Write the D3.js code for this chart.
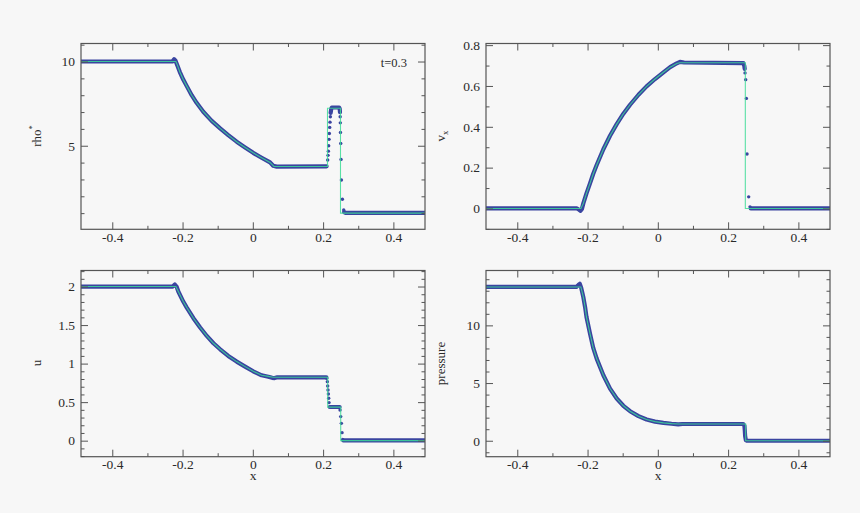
<!DOCTYPE html>
<html>
<head>
<meta charset="utf-8">
<script src="https://cdn.jsdelivr.net/npm/d3@7"></script>
<style>
  html, body { margin: 0; padding: 0; background: #f7f7f7; }
  svg { display: block; }
  text { font-family: "Liberation Serif", "Times New Roman", serif; fill: #2a2a2a; }
</style>
</head>
<body>
<svg id="chart" width="860" height="513"></svg>
<script>
// ---------------- shared x axis ----------------
const xDomain = [-0.489, 0.490];
const xMajorTicks = [-0.4, -0.2, 0, 0.2, 0.4];
const xTickLabels = ["-0.4", "-0.2", "0", "0.2", "0.4"];
const xMinorTicks = [-0.3, -0.1, 0.1, 0.3];
const timeLabel = "t=0.3";

// ---------------- rho* panel ----------------
const rhoDomain = [0.04, 11.07];
const rhoMajorTicks = [5, 10];
const rhoTickLabels = ["5", "10"];
const rhoMinorTicks = [1, 2, 3, 4, 6, 7, 8, 9, 11];
const rhoExactX = [-0.489, -0.219, -0.215, -0.208, -0.198, -0.188, -0.174, -0.160, -0.141, -0.117, -0.093, -0.070, -0.046, -0.022, 0.001, 0.025, 0.049, 0.060, 0.2125, 0.2125, 0.2495, 0.2495, 0.490];
const rhoExactY = [10, 10, 9.80, 9.39, 8.93, 8.54, 8.00, 7.55, 7.02, 6.48, 6.03, 5.63, 5.24, 4.90, 4.58, 4.29, 4.01, 3.77, 3.77, 7.23, 7.23, 1.0, 1.0];
const rhoBandX = [-0.489, -0.229, -0.224, -0.220, -0.215, -0.208, -0.198, -0.188, -0.174, -0.160, -0.141, -0.117, -0.093, -0.070, -0.046, -0.022, 0.001, 0.025, 0.049, 0.058, 0.068, 0.2100, null, 0.2215, 0.2232, 0.2250, 0.2455, 0.2472, 0.2480, null, 0.2600, 0.2630, 0.490];
const rhoBandY = [10, 10, 10.14, 10.05, 9.78, 9.39, 8.93, 8.54, 8.00, 7.55, 7.02, 6.48, 6.03, 5.63, 5.24, 4.90, 4.58, 4.29, 4.01, 3.81, 3.76, 3.78, null, 6.95, 7.20, 7.27, 7.27, 7.20, 7.00, null, 1.06, 1.02, 1.02];
const rhoDotX = [0.2131, 0.2140, 0.2150, 0.2159, 0.2169, 0.2178, 0.2188, 0.2197, 0.2207, 0.2483, 0.2486, 0.2490, 0.2494, 0.2502, 0.2511, 0.2521, 0.2549, 0.2587];
const rhoDotY = [4.15, 4.43, 4.68, 5.00, 5.38, 5.73, 6.09, 6.40, 6.72, 7.02, 6.72, 6.36, 5.79, 5.14, 4.19, 2.97, 1.82, 1.19];

// ---------------- v_x panel ----------------
const vDomain = [-0.102, 0.808];
const vMajorTicks = [0, 0.2, 0.4, 0.6, 0.8];
const vTickLabels = ["0", "0.2", "0.4", "0.6", "0.8"];
const vMinorTicks = [-0.1, 0.1, 0.3, 0.5, 0.7];
const vExactX = [-0.489, -0.219, -0.212, -0.203, -0.193, -0.184, -0.174, -0.155, -0.136, -0.117, -0.098, -0.079, -0.055, -0.032, -0.008, 0.016, 0.035, 0.054, 0.062, 0.2490, 0.2490, 0.490];
const vExactY = [0, 0, 0.025, 0.074, 0.123, 0.169, 0.213, 0.290, 0.356, 0.413, 0.464, 0.508, 0.557, 0.598, 0.634, 0.667, 0.692, 0.710, 0.714, 0.714, 0, 0];
const vBandX = [-0.489, -0.230, -0.224, -0.220, -0.216, -0.212, -0.203, -0.193, -0.184, -0.174, -0.155, -0.136, -0.117, -0.098, -0.079, -0.055, -0.032, -0.008, 0.016, 0.035, 0.054, 0.063, 0.075, 0.2434, 0.2463, 0.2472, null, 0.2645, 0.490];
const vBandY = [0, 0, -0.006, -0.011, -0.002, 0.025, 0.074, 0.123, 0.169, 0.213, 0.290, 0.356, 0.413, 0.464, 0.508, 0.557, 0.598, 0.634, 0.667, 0.692, 0.711, 0.718, 0.715, 0.712, 0.697, 0.684, null, 0, 0];
const vDotX = [0.2482, 0.2501, 0.2520, 0.2539, 0.2586, 0.2624];
const vDotY = [0.664, 0.631, 0.539, 0.267, 0.057, 0.008];

// ---------------- u panel ----------------
const uDomain = [-0.208, 2.208];
const uMajorTicks = [0, 0.5, 1, 1.5, 2];
const uTickLabels = ["0", "0.5", "1", "1.5", "2"];
const uMinorTicks = [-0.2, -0.1, 0.1, 0.2, 0.3, 0.4, 0.6, 0.7, 0.8, 0.9, 1.1, 1.2, 1.3, 1.4, 1.6, 1.7, 1.8, 1.9, 2.1, 2.2];
const uExactX = [-0.489, -0.219, -0.212, -0.198, -0.188, -0.169, -0.150, -0.131, -0.112, -0.093, -0.070, -0.046, -0.022, 0.001, 0.025, 0.044, 0.058, 0.2131, 0.2131, 0.2501, 0.2501, 0.490];
const uExactY = [2, 2, 1.935, 1.805, 1.727, 1.589, 1.468, 1.359, 1.264, 1.186, 1.100, 1.026, 0.961, 0.900, 0.848, 0.834, 0.823, 0.823, 0.435, 0.435, 0, 0];
const uBandX = [-0.489, -0.228, -0.222, -0.217, -0.212, -0.198, -0.188, -0.169, -0.150, -0.131, -0.112, -0.093, -0.070, -0.046, -0.022, 0.001, 0.025, 0.044, 0.055, 0.062, 0.070, 0.2093, null, 0.2188, 0.2470, null, 0.2575, 0.490];
const uBandY = [2, 2, 2.026, 2.0, 1.935, 1.805, 1.727, 1.589, 1.468, 1.359, 1.264, 1.186, 1.100, 1.026, 0.961, 0.900, 0.848, 0.830, 0.815, 0.812, 0.822, 0.822, null, 0.437, 0.437, null, 0.003, 0.003];
const uDotX = [0.2102, 0.2121, 0.2131, 0.2140, 0.2150, 0.2159, 0.2169, 0.2482, 0.2501, 0.2520, 0.2539, 0.2558];
const uDotY = [0.810, 0.766, 0.710, 0.658, 0.606, 0.550, 0.494, 0.398, 0.312, 0.225, 0.104, 0.017];

// ---------------- pressure panel ----------------
const pDomain = [-1.383, 14.755];
const pMajorTicks = [0, 5, 10];
const pTickLabels = ["0", "5", "10"];
const pMinorTicks = [-1, 1, 2, 3, 4, 6, 7, 8, 9, 11, 12, 13, 14];
const pExactX = [-0.489, -0.219, -0.212, -0.207, -0.203, -0.193, -0.184, -0.174, -0.155, -0.136, -0.117, -0.098, -0.079, -0.055, -0.032, -0.008, 0.016, 0.039, 0.058, 0.2500, 0.2500, 0.490];
const pExactY = [13.33, 13.33, 12.45, 11.59, 10.72, 9.28, 8.07, 7.12, 5.68, 4.52, 3.66, 3.03, 2.56, 2.13, 1.84, 1.66, 1.55, 1.48, 1.45, 1.45, 0, 0];
const pBandX = [-0.489, -0.232, -0.226, -0.222, -0.218, -0.212, -0.207, -0.203, -0.193, -0.184, -0.174, -0.155, -0.136, -0.117, -0.098, -0.079, -0.055, -0.032, -0.008, 0.016, 0.039, 0.058, 0.070, 0.2430, 0.2465, 0.2475, 0.2485, 0.2505, 0.2540, 0.490];
const pBandY = [13.33, 13.33, 13.50, 13.60, 13.25, 12.45, 11.59, 10.72, 9.28, 8.07, 7.12, 5.68, 4.52, 3.66, 3.03, 2.56, 2.13, 1.84, 1.66, 1.55, 1.47, 1.42, 1.45, 1.45, 1.30, 0.90, 0.40, 0.05, 0, 0];
const pDotX = [];
const pDotY = [];

// ---------------- drawing ----------------
const svg = d3.select("#chart");
const exactColor = "#3ddc97";
const particleColor = "#3a44a0";
const axisColor = "#555";
const serif = "'Liberation Serif', 'Times New Roman', serif";

const panels = [
  { left: 81, right: 425, top: 43.5, bottom: 229.3, yDomain: rhoDomain, yMajor: rhoMajorTicks, yLabels: rhoTickLabels, yMinor: rhoMinorTicks,
    exX: rhoExactX, exY: rhoExactY, bX: rhoBandX, bY: rhoBandY, dX: rhoDotX, dY: rhoDotY, title: "rho", sup: "*", titleX: 40.7, titleY: 136, xTitle: false, time: true },
  { left: 486, right: 830, top: 43.5, bottom: 229.3, yDomain: vDomain, yMajor: vMajorTicks, yLabels: vTickLabels, yMinor: vMinorTicks,
    exX: vExactX, exY: vExactY, bX: vBandX, bY: vBandY, dX: vDotX, dY: vDotY, title: "v", sub: "x", titleX: 445, titleY: 136, xTitle: false },
  { left: 81, right: 425, top: 270.5, bottom: 456.7, yDomain: uDomain, yMajor: uMajorTicks, yLabels: uTickLabels, yMinor: uMinorTicks,
    exX: uExactX, exY: uExactY, bX: uBandX, bY: uBandY, dX: uDotX, dY: uDotY, title: "u", titleX: 40.7, titleY: 363, xTitle: true },
  { left: 486, right: 830, top: 270.5, bottom: 456.7, yDomain: pDomain, yMajor: pMajorTicks, yLabels: pTickLabels, yMinor: pMinorTicks,
    exX: pExactX, exY: pExactY, bX: pBandX, bY: pBandY, dX: pDotX, dY: pDotY, title: "pressure", titleX: 445, titleY: 363.5, xTitle: true }
];

panels.forEach(P => {
  const x = d3.scaleLinear().domain(xDomain).range([P.left, P.right]);
  const y = d3.scaleLinear().domain(P.yDomain).range([P.bottom, P.top]);
  const g = svg.append("g");

  const clipId = "clip" + Math.round(P.left) + Math.round(P.top);
  svg.append("clipPath").attr("id", clipId).append("rect")
    .attr("x", P.left).attr("y", P.top).attr("width", P.right - P.left).attr("height", P.bottom - P.top);

  const data = g.append("g").attr("clip-path", `url(#${clipId})`);

  const line = d3.line().defined(d => d.x !== null && d.y !== null).x(d => x(d.x)).y(d => y(d.y));

  // particle band (dense particles)
  const band = P.bX.map((v, i) => ({ x: v, y: P.bY[i] }));
  data.append("path").datum(band).attr("d", line)
    .attr("fill", "none").attr("stroke", particleColor).attr("stroke-width", 4.2)
    .attr("stroke-linejoin", "round").attr("stroke-linecap", "round");

  // individual particles
  data.selectAll("circle.dot").data(P.dX.map((v, i) => ({ x: v, y: P.dY[i] })))
    .enter().append("circle").attr("class", "dot")
    .attr("cx", d => x(d.x)).attr("cy", d => y(d.y)).attr("r", 1.7).attr("fill", particleColor);

  // exact solution
  const ex = P.exX.map((v, i) => ({ x: v, y: P.exY[i] }));
  data.append("path").datum(ex).attr("d", line)
    .attr("fill", "none").attr("stroke", exactColor).attr("stroke-width", 1.1).attr("stroke-opacity", 0.85);

  // axes (box with inward ticks on all sides)
  const axG = g.append("g");
  const bottomAx = d3.axisBottom(x).tickValues(xMajorTicks).tickSize(-7).tickPadding(3).tickFormat((d, i) => xTickLabels[i]);
  const bottomMinor = d3.axisBottom(x).tickValues(xMinorTicks).tickSize(-3.5).tickFormat("");
  const topAx = d3.axisTop(x).tickValues(xMajorTicks).tickSize(-7).tickFormat("");
  const topMinor = d3.axisTop(x).tickValues(xMinorTicks).tickSize(-3.5).tickFormat("");
  const leftAx = d3.axisLeft(y).tickValues(P.yMajor).tickSize(-7).tickPadding(6).tickFormat((d, i) => P.yLabels[i]);
  const leftMinor = d3.axisLeft(y).tickValues(P.yMinor).tickSize(-3.5).tickFormat("");
  const rightAx = d3.axisRight(y).tickValues(P.yMajor).tickSize(-7).tickFormat("");
  const rightMinor = d3.axisRight(y).tickValues(P.yMinor).tickSize(-3.5).tickFormat("");

  [[bottomAx, `translate(0,${P.bottom})`], [bottomMinor, `translate(0,${P.bottom})`],
   [topAx, `translate(0,${P.top})`], [topMinor, `translate(0,${P.top})`],
   [leftAx, `translate(${P.left},0)`], [leftMinor, `translate(${P.left},0)`],
   [rightAx, `translate(${P.right},0)`], [rightMinor, `translate(${P.right},0)`]].forEach(([ax, tr]) => {
    const a = axG.append("g").attr("transform", tr).call(ax)
      .attr("font-size", null).attr("font-family", null);
    a.select(".domain").remove();
    a.selectAll(".tick line").attr("stroke", axisColor).attr("stroke-width", 1);
    a.selectAll(".tick text").attr("fill", "#2a2a2a")
      .style("font-size", "13.5px").style("font-family", serif);
  });

  g.append("rect").attr("x", P.left).attr("y", P.top)
    .attr("width", P.right - P.left).attr("height", P.bottom - P.top)
    .attr("fill", "none").attr("stroke", axisColor).attr("stroke-width", 1.2);

  // y title
  const t = g.append("text")
    .attr("transform", `translate(${P.titleX},${P.titleY}) rotate(-90)`)
    .attr("text-anchor", "middle").style("font-size", "13px").text(P.title);
  if (P.sup) t.append("tspan").style("font-size", "8.5px").attr("dy", -5.5).text(P.sup);
  if (P.sub) t.append("tspan").style("font-size", "8.5px").attr("dy", 3).text(P.sub);

  if (P.xTitle) {
    g.append("text").attr("x", (P.left + P.right) / 2).attr("y", 480)
      .attr("text-anchor", "middle").style("font-size", "13.5px").text("x");
  }
  if (P.time) {
    g.append("text").attr("x", 407).attr("y", 66.5)
      .attr("text-anchor", "end").style("font-size", "12.5px").text(timeLabel);
  }
});
</script>
</body>
</html>
